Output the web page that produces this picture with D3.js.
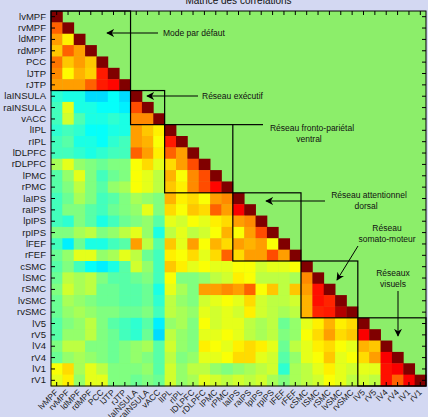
<!DOCTYPE html>
<html>
<head>
<meta charset="utf-8">
<script src="https://cdn.jsdelivr.net/npm/d3@7"></script>
<style>
  html, body { margin: 0; padding: 0; background: #d3d8f2; }
  svg { display: block; font-family: "Liberation Sans", Arial, sans-serif; }
  .tick line { stroke: #000; }
  .domain { display: none; }
</style>
</head>
<body>
<svg id="chart" width="428" height="417"></svg>
<script>
const regions = ['lvMPF','rvMPF','ldMPF','rdMPF','PCC','lJTP','rJTP','laINSULA','raINSULA','vACC',
  'lIPL','rIPL','lDLPFC','rDLPFC','lPMC','rPMC','laIPS','raIPS','lpIPS','rpIPS','lFEF','rFEF',
  'cSMC','lSMC','rSMC','lvSMC','rvSMC','lV5','rV5','lV4','rV4','lV1','rV1'];

// lower triangle, row r holds columns 0..r-1 (diagonal = 1)
const corrRows = [
  [],
  [0.78],
  [0.72,0.64],
  [0.68,0.78,0.72],
  [0.76,0.68,0.72,0.68],
  [0.74,0.63,0.70,0.67,0.85],
  [0.72,0.72,0.72,0.78,0.85,0.87],
  [0.42,0.40,0.40,0.34,0.34,0.38,0.34],
  [0.44,0.60,0.40,0.40,0.38,0.38,0.36,0.80],
  [0.44,0.58,0.45,0.40,0.40,0.42,0.40,0.74,0.74],
  [0.42,0.44,0.42,0.38,0.38,0.40,0.40,0.72,0.68,0.64],
  [0.44,0.46,0.40,0.40,0.38,0.42,0.44,0.72,0.70,0.62,0.85],
  [0.44,0.44,0.42,0.40,0.42,0.44,0.44,0.78,0.72,0.64,0.78,0.72],
  [0.54,0.60,0.52,0.50,0.48,0.50,0.50,0.62,0.66,0.60,0.66,0.72,0.80],
  [0.46,0.52,0.60,0.50,0.44,0.48,0.50,0.62,0.60,0.56,0.70,0.62,0.74,0.80],
  [0.46,0.50,0.56,0.50,0.46,0.52,0.54,0.62,0.60,0.56,0.68,0.64,0.74,0.80,0.87],
  [0.44,0.48,0.54,0.50,0.44,0.46,0.50,0.54,0.52,0.50,0.70,0.64,0.66,0.62,0.72,0.74],
  [0.44,0.50,0.50,0.46,0.44,0.48,0.50,0.52,0.60,0.50,0.66,0.62,0.68,0.66,0.78,0.72,0.88],
  [0.44,0.42,0.50,0.46,0.40,0.44,0.48,0.50,0.52,0.46,0.60,0.58,0.62,0.60,0.64,0.66,0.72,0.74],
  [0.50,0.50,0.54,0.56,0.50,0.52,0.56,0.60,0.52,0.40,0.56,0.60,0.56,0.58,0.62,0.70,0.62,0.72,0.80],
  [0.44,0.36,0.48,0.40,0.40,0.44,0.46,0.72,0.56,0.46,0.68,0.60,0.72,0.62,0.70,0.66,0.72,0.70,0.72,0.62],
  [0.48,0.52,0.60,0.60,0.52,0.54,0.60,0.56,0.48,0.44,0.64,0.62,0.66,0.60,0.66,0.78,0.66,0.72,0.72,0.80,0.72],
  [0.46,0.50,0.44,0.38,0.36,0.40,0.46,0.58,0.52,0.44,0.68,0.64,0.60,0.62,0.60,0.60,0.62,0.62,0.58,0.60,0.60,0.62],
  [0.48,0.56,0.54,0.56,0.50,0.46,0.46,0.48,0.50,0.44,0.62,0.50,0.50,0.52,0.56,0.58,0.64,0.62,0.56,0.56,0.56,0.54,0.74],
  [0.50,0.58,0.54,0.56,0.48,0.48,0.46,0.46,0.48,0.40,0.60,0.54,0.50,0.72,0.72,0.74,0.72,0.78,0.62,0.68,0.56,0.68,0.72,0.86],
  [0.48,0.54,0.52,0.50,0.48,0.48,0.46,0.46,0.48,0.42,0.56,0.52,0.50,0.58,0.60,0.62,0.60,0.66,0.58,0.56,0.56,0.58,0.70,0.86,0.84],
  [0.48,0.52,0.54,0.52,0.50,0.50,0.48,0.48,0.50,0.44,0.56,0.54,0.52,0.60,0.58,0.60,0.58,0.64,0.58,0.56,0.54,0.56,0.70,0.84,0.85,0.95],
  [0.46,0.50,0.52,0.56,0.50,0.46,0.44,0.42,0.46,0.36,0.52,0.54,0.50,0.62,0.58,0.60,0.60,0.56,0.54,0.56,0.48,0.52,0.60,0.64,0.70,0.64,0.66],
  [0.46,0.52,0.52,0.56,0.50,0.48,0.44,0.42,0.48,0.34,0.56,0.52,0.50,0.60,0.60,0.62,0.60,0.56,0.54,0.56,0.50,0.52,0.62,0.66,0.72,0.66,0.68,0.88],
  [0.50,0.56,0.56,0.50,0.50,0.48,0.50,0.52,0.54,0.46,0.58,0.52,0.50,0.64,0.62,0.60,0.64,0.66,0.64,0.60,0.48,0.56,0.60,0.64,0.66,0.62,0.60,0.70,0.68],
  [0.48,0.52,0.54,0.52,0.50,0.48,0.50,0.52,0.50,0.46,0.56,0.50,0.52,0.60,0.60,0.62,0.66,0.66,0.60,0.58,0.46,0.52,0.60,0.62,0.68,0.60,0.62,0.66,0.72,0.88],
  [0.62,0.66,0.54,0.60,0.56,0.50,0.50,0.50,0.52,0.46,0.58,0.52,0.56,0.56,0.52,0.50,0.52,0.54,0.56,0.58,0.42,0.54,0.56,0.60,0.64,0.60,0.58,0.60,0.60,0.86,0.88],
  [0.60,0.64,0.52,0.60,0.60,0.50,0.50,0.48,0.50,0.48,0.58,0.52,0.54,0.60,0.58,0.56,0.58,0.56,0.58,0.54,0.50,0.54,0.56,0.58,0.62,0.60,0.56,0.58,0.56,0.86,0.78,0.88]
];

// network blocks on the diagonal [first, last]
const networks = [
  ['lvMPF','rJTP'],
  ['laINSULA','vACC'],
  ['lIPL','rPMC'],
  ['laIPS','rFEF'],
  ['cSMC','rvSMC'],
  ['lV5','rV1']
];

const svg = d3.select('#chart');
const plotLeft = 51, plotTop = 11, size = 375;

const x = d3.scaleBand().domain(regions).range([plotLeft, plotLeft + size]);
const y = d3.scaleBand().domain(regions).range([plotTop, plotTop + size]);

// jet colormap
const jet = d3.scaleLinear()
  .domain([0, 0.125, 0.375, 0.625, 0.875, 1])
  .range(['#00008f', '#0000ff', '#00ffff', '#ffff00', '#ff0000', '#800000'])
  .clamp(true);

const cells = [];
corrRows.forEach((row, r) => {
  row.forEach((v, c) => cells.push({ r: regions[r], c: regions[c], v }));
  cells.push({ r: regions[r], c: regions[r], v: 1 });
});

// upper triangle background
svg.append('rect')
  .attr('x', plotLeft).attr('y', plotTop)
  .attr('width', size).attr('height', size)
  .attr('fill', '#8cee6a');

svg.append('g').selectAll('rect')
  .data(cells)
  .enter().append('rect')
  .attr('x', d => x(d.c))
  .attr('y', d => y(d.r))
  .attr('width', x.bandwidth() + 0.4)
  .attr('height', y.bandwidth() + 0.4)
  .attr('fill', d => jet(d.v));

// network boxes
svg.append('g').selectAll('rect')
  .data(networks)
  .enter().append('rect')
  .attr('x', d => x(d[0]))
  .attr('y', d => y(d[0]))
  .attr('width', d => x(d[1]) + x.bandwidth() - x(d[0]))
  .attr('height', d => y(d[1]) + y.bandwidth() - y(d[0]))
  .attr('fill', 'none')
  .attr('stroke', '#000')
  .attr('stroke-width', 1.2);

// frame
svg.append('rect')
  .attr('x', plotLeft).attr('y', plotTop)
  .attr('width', size).attr('height', size)
  .attr('fill', 'none').attr('stroke', '#000').attr('stroke-width', 1);

// axes, ticks inside like matlab
svg.append('g').attr('transform', `translate(0,${plotTop})`)
  .call(d3.axisTop(x).tickSize(-4).tickFormat(''));
svg.append('g').attr('transform', `translate(${plotLeft + size},0)`)
  .call(d3.axisRight(y).tickSize(-4).tickFormat(''));
svg.append('g').attr('transform', `translate(0,${plotTop + size})`)
  .call(d3.axisBottom(x).tickSize(-4).tickFormat(''));
const yAxis = svg.append('g').attr('transform', `translate(${plotLeft},0)`)
  .call(d3.axisLeft(y).tickSize(-4).tickPadding(5));
yAxis.selectAll('text')
  .attr('font-size', 9.5)
  .attr('font-family', '"Liberation Sans", Arial, sans-serif')
  .attr('fill', '#1a1a1a');

// bottom labels, rotated
svg.append('g').selectAll('text')
  .data(regions)
  .enter().append('text')
  .attr('transform', d => `translate(${x(d) + x.bandwidth() / 2 + 2},${plotTop + size + 7}) rotate(-45)`)
  .attr('text-anchor', 'end')
  .attr('font-size', 8.5)
  .attr('fill', '#1a1a1a')
  .text(d => d);

// title (cut off at top)
svg.append('text')
  .attr('x', plotLeft + size / 2).attr('y', 4)
  .attr('text-anchor', 'middle')
  .attr('font-size', 10)
  .attr('fill', '#111')
  .text('Matrice des corrélations');

// annotations
svg.append('defs').append('marker')
  .attr('id', 'head')
  .attr('viewBox', '0 0 10 10')
  .attr('refX', 9).attr('refY', 5)
  .attr('markerWidth', 8).attr('markerHeight', 8)
  .attr('markerUnits', 'userSpaceOnUse')
  .attr('orient', 'auto')
  .append('path').attr('d', 'M0,0 L10,5 L0,10 L3,5 Z').attr('fill', '#000');

const arrows = [
  [158, 33, 107, 33],
  [198, 96, 147, 96],
  [325, 201, 266, 201],
  [358, 246, 337, 280],
  [398, 291, 398, 336]
];
svg.append('g').selectAll('line')
  .data(arrows)
  .enter().append('line')
  .attr('x1', d => d[0]).attr('y1', d => d[1])
  .attr('x2', d => d[2]).attr('y2', d => d[3])
  .attr('stroke', '#000').attr('stroke-width', 1)
  .attr('marker-end', 'url(#head)');

// connector for fronto-parietal
svg.append('line')
  .attr('x1', x('rPMC') + x.bandwidth()).attr('y1', y('lIPL'))
  .attr('x2', 263).attr('y2', y('lIPL'))
  .attr('stroke', '#000').attr('stroke-width', 1.2);

const notes = [
  ['Mode par défaut', 163, 36, 'start'],
  ['Réseau exécutif', 202, 99, 'start'],
  ['Réseau fronto-pariétal', 312, 131, 'middle'],
  ['ventral', 309, 142, 'middle'],
  ['Réseau attentionnel', 369, 198, 'middle'],
  ['dorsal', 366, 209, 'middle'],
  ['Réseau', 387, 231, 'middle'],
  ['somato-moteur', 387, 242, 'middle'],
  ['Réseaux', 393, 276, 'middle'],
  ['visuels', 393, 287, 'middle']
];
svg.append('g').selectAll('text')
  .data(notes)
  .enter().append('text')
  .attr('x', d => d[1]).attr('y', d => d[2])
  .attr('text-anchor', d => d[3])
  .attr('font-size', 8.5)
  .attr('fill', '#111')
  .text(d => d[0]);
</script>
</body>
</html>
